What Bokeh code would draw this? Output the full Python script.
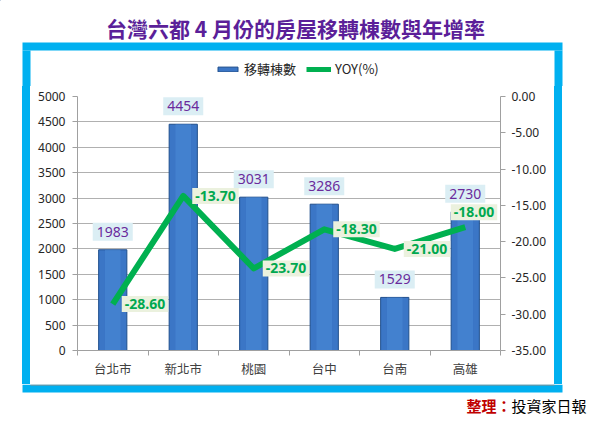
import numpy as np
from bokeh.plotting import figure
from bokeh.layouts import column, row
from bokeh.models import (Range1d, LinearAxis, FixedTicker, NumeralTickFormatter,
                          ColumnDataSource, Legend, LegendItem, CDSView, IndexFilter, Spacer)
from bokeh.core.properties import value
from bokeh.embed import file_html
from bokeh.resources import INLINE

# ---- data (bar heights as drawn in the picture; labels as printed on it) ----
cities = ["台北市", "新北市", "桃園", "台中", "台南", "高雄"]
bar_heights = [1983, 4454, 3018, 2880, 1045, 2730]
bar_labels = ["1983", "4454", "3031", "3286", "1529", "2730"]
yoy = [-28.60, -13.70, -23.70, -18.30, -21.00, -18.00]
left_ticks = list(range(0, 5001, 500))
right_ticks = list(range(-35, 1, 5))
title_text = "台灣六都 4 月份的房屋移轉棟數與年增率"
legend_labels = ["移轉棟數", "YOY(%)"]
source_red = "整理："
source_black = "投資家日報"

CJK = "Noto Sans CJK TC"
NUM = "Noto Sans"
CYAN = "#00b0f0"
BAR_FILL = "#3b76c6"
BAR_LINE = "#1f4e8c"
GREEN = "#00b050"


def deco(w, h, fill="white"):
    f = figure(width=w, height=h, output_backend="svg", toolbar_location=None,
               x_range=Range1d(0, w), y_range=Range1d(h, 0),
               x_axis_type=None, y_axis_type=None,
               min_border_left=0, min_border_right=0, min_border_top=0, min_border_bottom=0)
    f.title.visible = False
    f.outline_line_color = None
    f.background_fill_color = fill
    f.border_fill_color = fill
    return f


# ---- top: title, frame top, legend ----
TOP_H = 86
top = deco(592, TOP_H)
top.text(x=[295], y=[27], text=[title_text], text_align="center", text_baseline="middle",
         text_font=value(CJK), text_font_size="21px", text_font_style="bold",
         text_color="#5b1f99")
top.quad(left=[22, 22, 554], right=[562, 30, 562], top=[42, 50, 50],
         bottom=[50, TOP_H, TOP_H], fill_color=CYAN, line_color=None)
# legend proxies (kept outside the visible range)
proxy_bar = top.vbar(x=[-1000], top=[-1000], width=1, fill_color=BAR_FILL, line_color=BAR_LINE)
proxy_line = top.line(x=[-1000, -999], y=[-1000, -1000], line_color=GREEN, line_width=5)
legend = Legend(items=[LegendItem(label=legend_labels[0], renderers=[proxy_bar]),
                       LegendItem(label=legend_labels[1], renderers=[proxy_line])],
                location=(215, TOP_H - 78), orientation="horizontal",
                background_fill_alpha=0, border_line_color=None,
                padding=0, margin=0, spacing=10, glyph_width=25, glyph_height=6,
                label_height=14, label_standoff=4,
                label_text_font=CJK, label_text_font_size="13px",
                label_text_color="#262626")
top.add_layout(legend)

# ---- main chart ----
xc = np.arange(len(cities)) + 0.5
src = ColumnDataSource(dict(x=xc, cnt=bar_heights, cnt_lbl=bar_labels, yoy=yoy,
                            yoy_lbl=["%.2f" % v for v in yoy]))

MAIN_H = 298
p = figure(width=524, height=MAIN_H, output_backend="svg", toolbar_location=None,
           x_range=Range1d(0, len(cities)), y_range=Range1d(0, 5000),
           min_border_left=47, min_border_right=54, min_border_top=10, min_border_bottom=34)
p.title.visible = False
p.background_fill_color = "white"
p.border_fill_color = "white"
p.outline_line_color = None
p.extra_y_ranges = {"yoy": Range1d(-35, 0)}

xa = p.xaxis[0]
xa.ticker = FixedTicker(ticks=list(xc), minor_ticks=list(range(len(cities) + 1)))
xa.major_label_overrides = {float(x): c for x, c in zip(xc, cities)}
xa.major_tick_line_color = None
xa.minor_tick_line_color = "#a0a0a0"
xa.minor_tick_out = 5
xa.minor_tick_in = 0
xa.axis_line_color = "#a0a0a0"
xa.major_label_text_font = CJK
xa.major_label_text_font_size = "12.5px"
xa.major_label_text_color = "#404040"
xa.major_label_standoff = 2

ya = p.yaxis[0]
ya.ticker = FixedTicker(ticks=left_ticks)
ya.axis_line_color = "#a0a0a0"
ya.major_tick_line_color = "#a0a0a0"
ya.major_tick_out = 5
ya.major_tick_in = 0
ya.minor_tick_line_color = None
ya.major_label_text_font = NUM
ya.major_label_text_font_size = "12px"
ya.major_label_text_color = "#262626"
ya.major_label_standoff = 7

ra = LinearAxis(y_range_name="yoy", ticker=FixedTicker(ticks=right_ticks),
                formatter=NumeralTickFormatter(format="0.00"))
ra.axis_line_color = "#a0a0a0"
ra.major_tick_line_color = "#a0a0a0"
ra.major_tick_out = 5
ra.major_tick_in = 0
ra.minor_tick_line_color = None
ra.major_label_text_font = NUM
ra.major_label_text_font_size = "12px"
ra.major_label_text_color = "#262626"
ra.major_label_standoff = 6
p.add_layout(ra, "right")

p.xgrid.grid_line_color = None
p.ygrid.grid_line_color = "#b0b0b0"
p.ygrid.ticker = FixedTicker(ticks=left_ticks)

p.vbar(x="x", top="cnt", width=0.4, bottom=0, source=src,
       fill_color=BAR_FILL, line_color=BAR_LINE, line_width=1)
p.vbar(x="x", top="cnt", width=0.22, bottom=0, source=src,
       fill_color="#4a88d6", fill_alpha=0.6, line_color=None)

p.line(x="x", y="yoy", source=src, y_range_name="yoy",
       line_color=GREEN, line_width=6, line_join="round")

p.text(x="x", y="cnt", text="cnt_lbl", source=src, y_offset=-18,
       text_align="center", text_baseline="middle",
       text_font=value(NUM), text_font_size="14px", text_color="#6a2a9c",
       padding=4, background_fill_color="#dbeef4")

n = len(cities)
first = CDSView(filter=IndexFilter(list(range(n - 1))))
last = CDSView(filter=IndexFilter([n - 1]))
lbl_style = dict(text_font=value(NUM), text_font_size="14px", text_font_style="bold",
                 text_color="#00a84f", padding=3, background_fill_color="#ebf1de",
                 text_baseline="middle")
p.text(x="x", y="yoy", text="yoy_lbl", source=src, view=first, y_range_name="yoy",
       x_offset=9, text_align="left", **lbl_style)
# last label kept inside the plot area (text is clipped at the right axis)
p.text(x="x", y="yoy", text="yoy_lbl", source=src, view=last, y_range_name="yoy",
       x_offset=32, y_offset=-15, text_align="right", **lbl_style)

left_bar = deco(8, MAIN_H, CYAN)
left_bar.styles = {"background-color": CYAN}
right_bar = deco(8, MAIN_H, CYAN)
right_bar.styles = {"background-color": CYAN}

middle = row(Spacer(width=22, height=MAIN_H), left_bar, p, right_bar,
             Spacer(width=30, height=MAIN_H))

# ---- bottom: frame bottom and source ----
bot = deco(592, 45)
bot.quad(left=[22], right=[562], top=[0], bottom=[8], fill_color=CYAN, line_color=None)
bot.quad(left=[30], right=[554], top=[0], bottom=[1], fill_color="#a08a80", line_color=None)
bot.text(x=[511], y=[21], text=[source_red], text_align="right", text_baseline="middle",
         text_font=value(CJK), text_font_size="15px", text_font_style="bold",
         text_color="#c00000")
bot.text(x=[511], y=[21], text=[source_black], text_align="left", text_baseline="middle",
         text_font=value(CJK), text_font_size="15px", text_color="#000000")

layout = column(top, middle, bot)
open("out.html", "w").write(file_html(layout, INLINE))
